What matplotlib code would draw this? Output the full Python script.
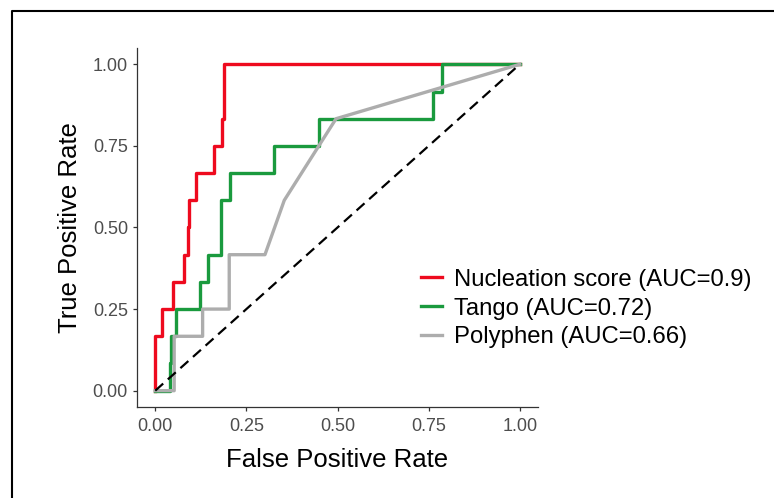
import matplotlib.pyplot as plt
from matplotlib.lines import Line2D

plt.rcParams['font.family'] = ['Liberation Sans', 'DejaVu Sans']

# ROC curve vertices (false positive rate, true positive rate)
nuc_fpr = [0, 0, 0.018, 0.018, 0.049, 0.049, 0.078, 0.078, 0.090, 0.090, 0.093, 0.093,
           0.112, 0.112, 0.160, 0.160, 0.183, 0.183, 0.189, 0.189, 1.0]
nuc_tpr = [0, 2/12, 2/12, 3/12, 3/12, 4/12, 4/12, 5/12, 5/12, 6/12, 6/12, 7/12,
           7/12, 8/12, 8/12, 9/12, 9/12, 10/12, 10/12, 1.0, 1.0]

tango_fpr = [0, 0.041, 0.041, 0.044, 0.044, 0.058, 0.058, 0.124, 0.124, 0.144, 0.144,
             0.180, 0.180, 0.206, 0.206, 0.327, 0.327, 0.448, 0.448, 0.762, 0.762,
             0.787, 0.787, 1.0]
tango_tpr = [0, 0, 1/12, 1/12, 2/12, 2/12, 3/12, 3/12, 4/12, 4/12, 5/12,
             5/12, 7/12, 7/12, 8/12, 8/12, 9/12, 9/12, 10/12, 10/12, 11/12,
             11/12, 1.0, 1.0]

poly_fpr = [0, 0.052, 0.052, 0.130, 0.130, 0.203, 0.203, 0.301, 0.354, 0.496, 1.0]
poly_tpr = [0, 0, 2/12, 2/12, 3/12, 3/12, 5/12, 5/12, 7/12, 10/12, 1.0]

labels = ['Nucleation score (AUC=0.9)', 'Tango (AUC=0.72)', 'Polyphen (AUC=0.66)']
colors = ['#EE0A1E', '#1A9A3E', '#ADADAD']

fig = plt.figure(figsize=(7.74, 4.98), dpi=100)
ax = fig.add_axes([137/774, 1 - 407/498, (538 - 137)/774, (407 - 48)/498])

lw = 2.4
ax.plot(nuc_fpr, nuc_tpr, color=colors[0], lw=lw, label=labels[0])
ax.plot(tango_fpr, tango_tpr, color=colors[1], lw=lw, label=labels[1])
ax.plot(poly_fpr, poly_tpr, color=colors[2], lw=lw, label=labels[2])
ax.plot([0, 1], [0, 1], color='black', lw=1.6, dashes=(4.8, 2.8))

ax.set_xlim(-0.05, 1.05)
ax.set_ylim(-0.05, 1.05)
ticks = [0, 0.25, 0.5, 0.75, 1.0]
ax.set_xticks(ticks)
ax.set_yticks(ticks)
ax.set_xticklabels(['%.2f' % t for t in ticks])
ax.set_yticklabels(['%.2f' % t for t in ticks])
ax.tick_params(length=3, width=0.9, color='#333333', labelcolor='#4D4D4D',
               labelsize=13, pad=3.5)
ax.tick_params(axis='x', pad=5)

for s in ['top', 'right']:
    ax.spines[s].set_visible(False)
for s in ['left', 'bottom']:
    ax.spines[s].set_color('#333333')
    ax.spines[s].set_linewidth(0.9)

ax.set_xlabel('False Positive Rate', fontsize=18.5, labelpad=9)
ax.set_ylabel('True Positive Rate', fontsize=18.5, labelpad=8)

fig.legend(loc='center left', bbox_to_anchor=(421/774, 1 - 308.5/498),
           frameon=False, fontsize=17.2, handlelength=0.87, handletextpad=0.5,
           labelspacing=0.28, borderpad=0, borderaxespad=0)

# thin frame around the figure (top and left visible)
fig.add_artist(Line2D([12/774, 12/774, 1], [0, 1 - 11/498, 1 - 11/498],
                      transform=fig.transFigure, color='black', lw=1.5))

fig.savefig('out.png', dpi=100)
